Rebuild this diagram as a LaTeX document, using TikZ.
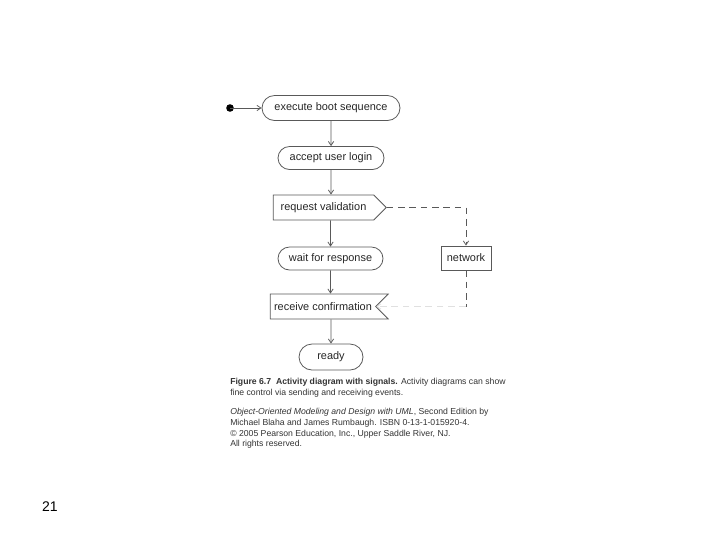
\documentclass[tikz,border=0pt]{standalone}
\usepackage{fontspec}
\setmainfont{Liberation Sans}
\usetikzlibrary{shapes.misc,shapes.symbols,arrows.meta}
\definecolor{ln}{gray}{0.35}
\tikzset{
  base/.style={draw=ln, line width=0.6pt, font=\fontsize{8.2pt}{10pt}\selectfont, text=black!85, inner sep=0pt},
  act/.style={base, rounded rectangle},
  sendsig/.style={base, signal, signal to=east},
  recvsig/.style={base, signal, signal to=nowhere, signal from=east},
  plainbox/.style={base, rectangle},
  flow/.style={draw=ln, line width=0.6pt, -{Straight Barb[length=3pt,width=4pt]}},
  sigflow/.style={draw=ln, line width=0.6pt, dash pattern=on 5pt off 3.5pt},
  caption/.style={font=\fontsize{6.5pt}{7.9pt}\selectfont, text=black!80, anchor=north west, align=left, inner sep=0pt}
}
\begin{document}
\begin{tikzpicture}[x=0.75pt,y=-0.75pt]
\useasboundingbox (0,0) rectangle (720,540);
\fill[black] (230,108) circle (3.8) coordinate (start);
\node[act, minimum width=103.5pt, minimum height=18.75pt] (boot) at (331,108) {execute boot sequence};
\node[act, minimum width=79.5pt, minimum height=17.25pt] (login) at (331,158) {accept user login};
\node[sendsig, minimum width=84.75pt, minimum height=18.75pt] (req) at (323.5,207.5) {request validation};
\node[act, minimum width=78.75pt, minimum height=17.25pt] (wait) at (330.5,258.5) {wait for response};
\node[plainbox, minimum width=37.5pt, minimum height=18pt] (net) at (466,258) {network};
\node[recvsig, minimum width=88.5pt, minimum height=18.75pt] (recv) at (323,306.5) {receive confirmation\hspace{3pt}};
\node[act, minimum width=48pt, minimum height=19.5pt] (ready) at (331,357) {ready};
\coordinate (c1) at (466,207.5);
\coordinate (c2) at (466,306.5);
\draw[flow] (start) -- (boot);
\draw[flow] (boot) -- (login);
\draw[flow] (login) -- (req.north -| login.south);
\draw[flow] (req.south -| wait.north) -- (wait);
\draw[flow] (wait) -- (recv.north -| wait.south);
\draw[flow] (recv.south -| ready.north) -- (ready);
\draw[sigflow] (req.east) -- (c1);
\draw[sigflow, -{Straight Barb[length=3pt,width=4pt]}] (c1) -- (net.north);
\draw[sigflow] (net.south) -- (c2);
\draw[sigflow, draw=black!12, -{Straight Barb[length=3pt,width=4pt]}] (c2) -- (recv.east);
\node[caption] (cap) at (230,378) {\textbf{Figure 6.7\ \ Activity diagram with signals.} Activity diagrams can show\\fine control via sending and receiving events.\\[7pt]\textit{Object-Oriented Modeling and Design with UML}, Second Edition by\\Michael Blaha and James Rumbaugh. ISBN 0-13-1-015920-4.\\© 2005 Pearson Education, Inc., Upper Saddle River, NJ.\\All rights reserved.};
\node[font=\fontsize{10.5pt}{12pt}\selectfont, inner sep=0pt] (pg) at (50,507) {21};
\end{tikzpicture}
\end{document}
